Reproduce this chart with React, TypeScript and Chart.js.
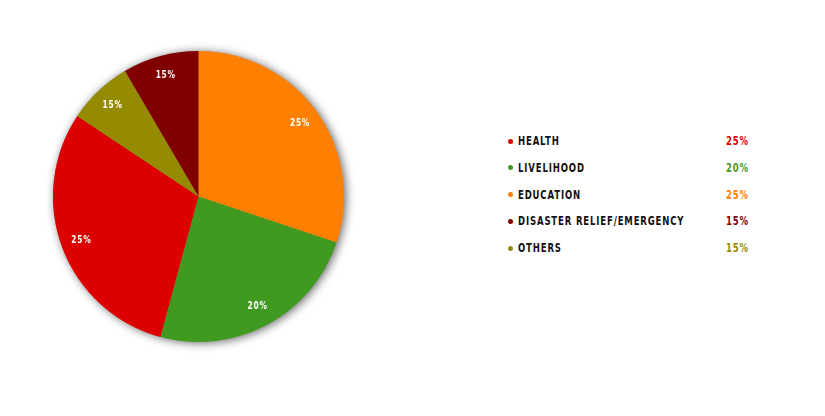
import React, { useEffect, useRef } from "react";
import { Chart, registerables } from "chart.js";

Chart.register(...registerables);

const categories = ["HEALTH", "LIVELIHOOD", "EDUCATION", "DISASTER RELIEF/EMERGENCY", "OTHERS"];
const sliceValues = [25, 20, 25, 7, 6];
const percentLabels = ["25%", "20%", "25%", "15%", "15%"];
const colors = ["#dd0000", "#3f9a1f", "#ff8000", "#800000", "#958b00"];
// clockwise order of slices starting at 12 o'clock
const sliceOrder = [2, 1, 0, 4, 3];

const FONT = "'DejaVu Sans', sans-serif";

const shadowPlugin = {
  id: "pieShadow",
  beforeDatasetsDraw(chart: any) {
    const meta = chart.getDatasetMeta(0);
    const arc = meta.data[0];
    if (!arc) return;
    const { x, y, outerRadius } = arc.getProps(["x", "y", "outerRadius"], true);
    const ctx = chart.ctx;
    ctx.save();
    ctx.shadowColor = "rgba(0,0,0,0.6)";
    ctx.shadowBlur = 10;
    ctx.shadowOffsetX = 2;
    ctx.shadowOffsetY = 1;
    ctx.fillStyle = "#999";
    ctx.beginPath();
    ctx.arc(x, y, outerRadius, 0, Math.PI * 2);
    ctx.fill();
    ctx.restore();
  },
};

const labelPlugin = {
  id: "sliceLabels",
  afterDatasetsDraw(chart: any) {
    const meta = chart.getDatasetMeta(0);
    const ctx = chart.ctx;
    meta.data.forEach((arc: any, i: number) => {
      const { x, y, startAngle, endAngle, outerRadius } = arc.getProps(
        ["x", "y", "startAngle", "endAngle", "outerRadius"],
        true
      );
      const mid = (startAngle + endAngle) / 2;
      const r = outerRadius * 0.86;
      const label = percentLabels[sliceOrder[i]];
      ctx.save();
      ctx.fillStyle = "#ffffff";
      ctx.font = `bold 10px ${FONT}`;
      (ctx as any).letterSpacing = "1px";
      ctx.textAlign = "center";
      ctx.textBaseline = "middle";
      ctx.translate(x + Math.cos(mid) * r, y + Math.sin(mid) * r);
      ctx.scale(0.75, 1);
      ctx.fillText(label, 0, 0);
      ctx.restore();
    });
  },
};

export default function App() {
  const canvasRef = useRef<HTMLCanvasElement | null>(null);

  useEffect(() => {
    if (!canvasRef.current) return;
    const chart = new Chart(canvasRef.current, {
      type: "pie",
      data: {
        labels: sliceOrder.map((i) => categories[i]),
        datasets: [
          {
            data: sliceOrder.map((i) => sliceValues[i]),
            backgroundColor: sliceOrder.map((i) => colors[i]),
            borderWidth: 0,
          },
        ],
      },
      options: {
        responsive: false,
        animation: false,
        layout: { padding: { left: 53, right: 56, top: 51, bottom: 58 } },
        plugins: {
          legend: { display: false },
          tooltip: { enabled: false },
        },
      },
      plugins: [shadowPlugin, labelPlugin],
    });
    return () => chart.destroy();
  }, []);

  const textStyle: React.CSSProperties = {
    position: "absolute",
    top: 0,
    whiteSpace: "nowrap",
    transform: "scaleX(0.71)",
    transformOrigin: "left center",
  };

  return (
    <div
      style={{
        position: "fixed",
        left: 0,
        top: 0,
        width: 825,
        height: 416,
        background: "#ffffff",
      }}
    >
      <canvas
        ref={canvasRef}
        width={400}
        height={400}
        style={{ position: "absolute", left: 0, top: 0, width: 400, height: 400 }}
      />
      {categories.map((c, i) => (
        <div
          key={c}
          style={{
            position: "absolute",
            left: 504,
            top: 141 + i * 26.8 - 8,
            height: 16,
            width: 260,
            fontFamily: FONT,
            fontWeight: "bold",
            fontSize: 12,
            letterSpacing: "1.2px",
            lineHeight: "16px",
          }}
        >
          <span
            style={{
              position: "absolute",
              left: 3.5,
              top: 5.5,
              width: 5,
              height: 5,
              borderRadius: "50%",
              background: colors[i],
            }}
          />
          <span style={{ ...textStyle, left: 14, color: "#111" }}>{c}</span>
          <span style={{ ...textStyle, left: 222, color: colors[i] }}>{percentLabels[i]}</span>
        </div>
      ))}
    </div>
  );
}
